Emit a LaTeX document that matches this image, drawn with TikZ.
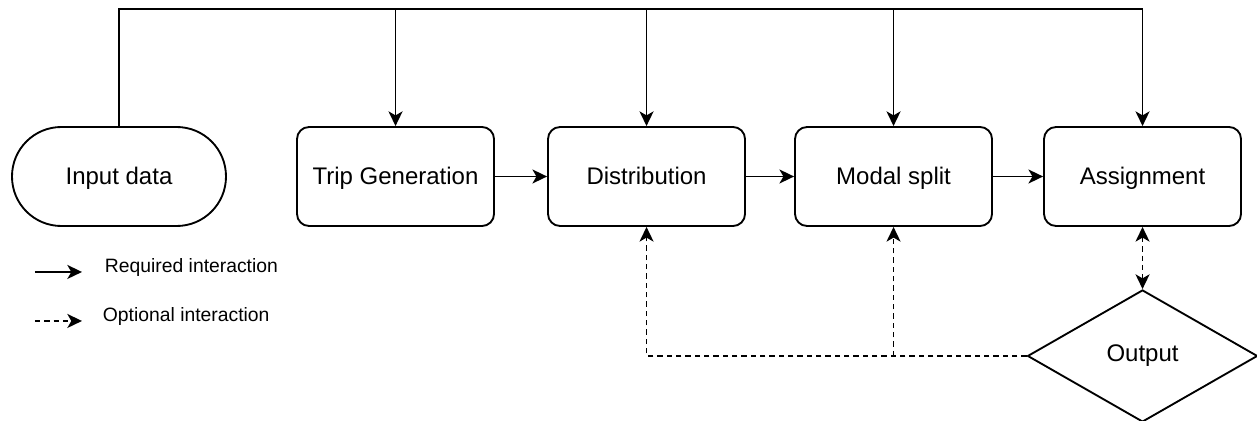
\documentclass[tikz,border=0pt]{standalone}
\usepackage{fontspec}
\setmainfont{Liberation Sans}
\usetikzlibrary{positioning,shapes.geometric,arrows.meta}

\begin{document}
\begin{tikzpicture}[line width=1.4pt,
	node distance=186.75pt,
	on grid,
	>={Stealth[length=11pt,width=10.5pt,inset=3pt]},
	stage/.style={draw,rounded corners=9pt,minimum width=147.75pt,minimum height=74.25pt,
		text height=14.5pt,text depth=2pt,font=\fontsize{18}{22}\selectfont},
	terminal/.style={stage,rounded corners=37pt,minimum width=160.5pt},
	decision/.style={diamond,draw,inner sep=0pt,minimum width=172.5pt,minimum height=99pt,font=\fontsize{18}{22}\selectfont},
	req/.style={->},
	opt/.style={->,dash pattern=on 4pt off 3pt},
	legend/.style={font=\fontsize{14.5}{17}\selectfont,anchor=base west,inner sep=0pt}]

\useasboundingbox (-89.25pt,132.375pt) rectangle (853.5pt,-183.375pt);

% Stages
\node[terminal] (input) at (0,0) {Input data};

\node[stage,
	right=207.4pt of input] (tripgen) {Trip Generation};

\node[stage,
	right=188.25pt of tripgen] (distrib) {Distribution};

\node[stage,
	right=185.25pt of distrib] (modal) {Modal split};

\node[stage,
	right=of modal] (assign) {Assignment};

\node[decision,
	below=134.6pt of assign] (output) {Output};

% data line on top
\coordinate[above=87.75pt of input.north] (bus);

% connections
\draw[req] (input.north) -- (bus) -| (assign.north);
\foreach \n in {tripgen,distrib,modal}
	\draw[req] (bus -| \n.north) -- (\n.north);

\draw[req] (tripgen) -- (distrib);
\draw[req] (distrib) -- (modal);
\draw[req] (modal) -- (assign);

\draw[opt] (output.west) -| (distrib.south);
\draw[opt] (output.west -| modal.south) -- (modal.south);
\draw[opt,<->] (assign.south) -- (output.north);

% Legend
\coordinate[below left=71.6pt and 63pt of input] (reqA);
\coordinate[right=35.25pt of reqA] (reqB);
\coordinate[below=36.75pt of reqA] (optA);
\coordinate[right=35.25pt of optA] (optB);

\draw[req] (reqA) -- (reqB);
\draw[opt] (optA) -- (optB);

\node[legend] (reqtext) at ([xshift=16.5pt,yshift=-0.75pt]reqB) {Required interaction};
\node[legend] (opttext) at ([xshift=15pt,yshift=-0.75pt]optB) {Optional interaction};

\end{tikzpicture}
\end{document}
